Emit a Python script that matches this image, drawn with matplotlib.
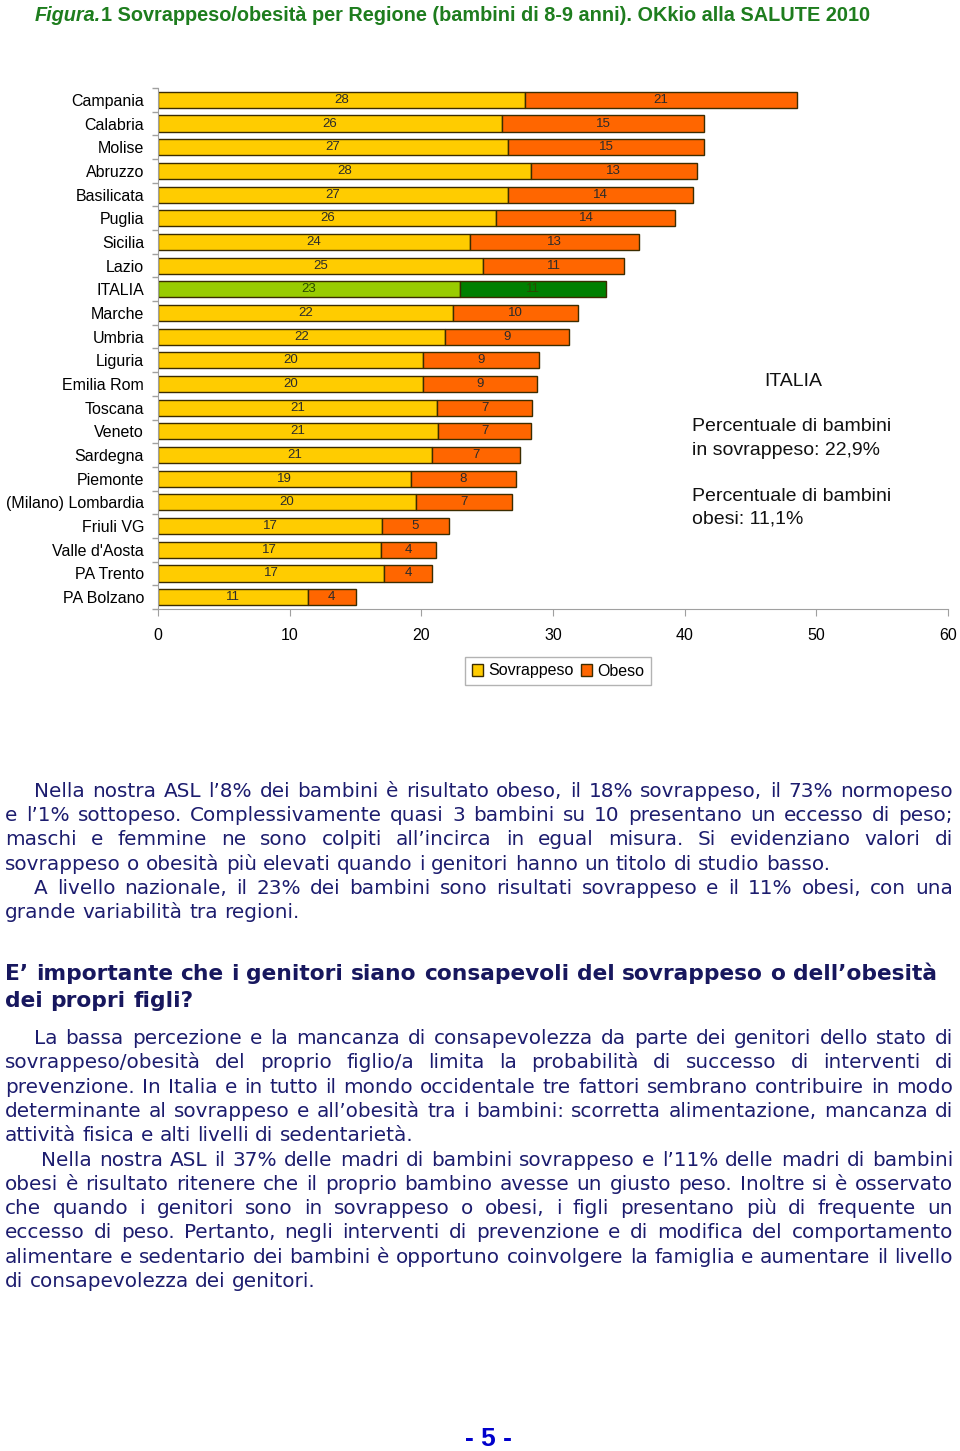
import numpy as np
import matplotlib
matplotlib.use('Agg')
from matplotlib import pyplot as plt
from matplotlib.patches import Patch

# --- data ---
regions = ['Campania', 'Calabria', 'Molise', 'Abruzzo', 'Basilicata', 'Puglia',
           'Sicilia', 'Lazio', 'ITALIA', 'Marche', 'Umbria', 'Liguria', 'Emilia Rom',
           'Toscana', 'Veneto', 'Sardegna', 'Piemonte', '(Milano) Lombardia',
           'Friuli VG', "Valle d'Aosta", 'PA Trento', 'PA Bolzano']
sovrappeso = [27.9, 26.1, 26.6, 28.3, 26.6, 25.7, 23.7, 24.7, 22.9, 22.4, 21.8,
              20.1, 20.1, 21.2, 21.3, 20.8, 19.2, 19.6, 17.0, 16.9, 17.2, 11.4]
obeso = [20.6, 15.4, 14.9, 12.6, 14.0, 13.6, 12.8, 10.7, 11.1, 9.5, 9.4,
         8.8, 8.7, 7.2, 7.0, 6.7, 8.0, 7.3, 5.1, 4.2, 3.6, 3.6]
xticks = [0, 10, 20, 30, 40, 50, 60]

W, H = 960, 1451
YELLOW, ORANGE = '#FFCC00', '#FF6600'
LGREEN, DGREEN = '#99CC00', '#008000'
EDGE = '#3b2c00'
AXC = '#a0a0a0'
NAVY = '#1c1c6e'


def fx(px):
    return px / W


def fy(py):
    return 1 - py / H


fig = plt.figure(figsize=(W / 100, H / 100), dpi=100)
renderer = fig.canvas.get_renderer()


def text_width(s, **kw):
    t = fig.text(0, 0, s, **kw)
    w = t.get_window_extent(renderer).width
    t.remove()
    return w


def fit_size(s, target, **kw):
    return 10 * target / text_width(s, fontsize=10, **kw)


# --- title ---
tkw = dict(family='Liberation Sans', weight='bold', color='#1e7d1e')
t1, t2 = 'Figura.', '1 Sovrappeso/obesità per Regione (bambini di 8-9 anni). OKkio alla SALUTE 2010'
w10 = text_width(t1, fontsize=10, style='italic', **tkw) + text_width(t2, fontsize=10, **tkw)
ts = 10 * (871 - 35) / w10
fig.text(fx(35), fy(21), t1, fontsize=ts, style='italic', va='baseline', **tkw)
w1 = text_width(t1, fontsize=ts, style='italic', **tkw)
fig.text(fx(35 + w1), fy(21), t2, fontsize=ts, va='baseline', **tkw)

# --- bar chart ---
ax = fig.add_axes([fx(158), fy(609), fx(948) - fx(158), (609 - 88) / H])
y = np.arange(len(regions))
cs = [LGREEN if r == 'ITALIA' else YELLOW for r in regions]
co = [DGREEN if r == 'ITALIA' else ORANGE for r in regions]
ax.barh(y, sovrappeso, height=0.68, color=cs, edgecolor=EDGE, linewidth=1)
ax.barh(y, obeso, left=sovrappeso, height=0.68, color=co, edgecolor=EDGE, linewidth=1)
for i, r in enumerate(regions):
    lc = '#2a4a00' if r == 'ITALIA' else '#2b2b2b'
    ax.text(sovrappeso[i] / 2, i, f'{round(sovrappeso[i])}', ha='center', va='center',
            fontsize=9.5, color=lc, family='Liberation Sans')
    ax.text(sovrappeso[i] + obeso[i] / 2, i, f'{round(obeso[i])}', ha='center', va='center',
            fontsize=9.5, color=lc, family='Liberation Sans')

ax.set_xlim(0, 60)
ax.set_ylim(len(regions) - 0.5, -0.5)
ax.set_xticks(xticks)
ax.set_xticklabels([str(v) for v in xticks], family='Liberation Sans', fontsize=11.5)
ax.set_yticks(y)
ax.set_yticklabels(regions, family='Liberation Sans', fontsize=11.5)
ax.set_yticks(np.arange(len(regions) + 1) - 0.5, minor=True)
ax.tick_params(axis='y', which='major', length=0, pad=10)
ax.tick_params(axis='y', which='minor', length=4, color=AXC, width=1)
ax.tick_params(axis='x', length=5, color=AXC, pad=9)
for sp in ['top', 'right']:
    ax.spines[sp].set_visible(False)
for sp in ['left', 'bottom']:
    ax.spines[sp].set_color(AXC)

leg = fig.legend(handles=[Patch(facecolor=YELLOW, edgecolor=EDGE, label='Sovrappeso'),
                          Patch(facecolor=ORANGE, edgecolor=EDGE, label='Obeso')],
                 loc='center', bbox_to_anchor=(fx(558), fy(671)), ncol=2,
                 prop={'family': 'Liberation Sans', 'size': 11.5},
                 handlelength=0.7, handleheight=0.7, handletextpad=0.3,
                 columnspacing=0.5, borderpad=0.4, fancybox=False, edgecolor=AXC)
leg.get_frame().set_linewidth(1)

# --- ITALIA box ---
rkw = dict(family='Liberation Sans', fontsize=14, color='#111111', va='baseline')
fig.text(fx(793), fy(386), 'ITALIA', ha='center', **rkw)
fig.text(fx(692), fy(431), 'Percentuale di bambini', **rkw)
fig.text(fx(692), fy(455), 'in sovrappeso: 22,9%', **rkw)
fig.text(fx(692), fy(501), 'Percentuale di bambini', **rkw)
fig.text(fx(692), fy(524), 'obesi: 11,1%', **rkw)

# --- body text (justified) ---
para1 = [
    (34, True, 'Nella nostra ASL l’8% dei bambini è risultato obeso, il 18% sovrappeso, il 73% normopeso'),
    (5, True, 'e l’1% sottopeso. Complessivamente quasi 3 bambini su 10 presentano un eccesso di peso;'),
    (5, True, 'maschi e femmine ne sono colpiti all’incirca in egual misura. Si evidenziano valori di'),
    (5, False, 'sovrappeso o obesità più elevati quando i genitori hanno un titolo di studio basso.'),
    (34, True, 'A livello nazionale, il 23% dei bambini sono risultati sovrappeso e il 11% obesi, con una'),
    (5, False, 'grande variabilità tra regioni.'),
]
para2 = [
    (34, True, 'La bassa percezione e la mancanza di consapevolezza da parte dei genitori dello stato di'),
    (5, True, 'sovrappeso/obesità del proprio figlio/a limita la probabilità di successo di interventi di'),
    (5, True, 'prevenzione. In Italia e in tutto il mondo occidentale tre fattori sembrano contribuire in modo'),
    (5, True, 'determinante al sovrappeso e all’obesità tra i bambini: scorretta alimentazione, mancanza di'),
    (5, False, 'attività fisica e alti livelli di sedentarietà.'),
    (41, True, 'Nella nostra ASL il 37% delle madri di bambini sovrappeso e l’11% delle madri di bambini'),
    (5, True, 'obesi è risultato ritenere che il proprio bambino avesse un giusto peso. Inoltre si è osservato'),
    (5, True, 'che quando i genitori sono in sovrappeso o obesi, i figli presentano più di frequente un'),
    (5, True, 'eccesso di peso. Pertanto, negli interventi di prevenzione e di modifica del comportamento'),
    (5, True, 'alimentare e sedentario dei bambini è opportuno coinvolgere la famiglia e aumentare il livello'),
    (5, False, 'di consapevolezza dei genitori.'),
]
heading = ['E’ importante che i genitori siano consapevoli del sovrappeso o dell’obesità',
           'dei propri figli?']

bkw = dict(family='DejaVu Sans', color=NAVY)
bsize = fit_size(para1[3][2], 828 - 5, **bkw)


def draw_lines(lines, y0, dy, size, right=953, **kw):
    space = text_width('x x', fontsize=size, **kw) - text_width('xx', fontsize=size, **kw)
    for k, (x0, just, line) in enumerate(lines):
        yb = y0 + k * dy
        words = line.split()
        widths = [text_width(w, fontsize=size, **kw) for w in words]
        gap = space
        if just and len(words) > 1:
            gap = (right - x0 - sum(widths)) / (len(words) - 1)
        x = x0
        for w, ww in zip(words, widths):
            fig.text(fx(x), fy(yb), w, fontsize=size, va='baseline', **kw)
            x += ww + gap


draw_lines(para1, 797, 24.2, bsize, **bkw)

hkw = dict(family='DejaVu Sans', color='#17175e', weight='bold')
hsize = fit_size(heading[0], 935 - 5, **hkw)
draw_lines([(5, False, heading[0]), (5, False, heading[1])], 980, 27, hsize, **hkw)

draw_lines(para2, 1044, 24.3, bsize, **bkw)

# --- page number ---
fig.text(fx(488), fy(1439), '- 5 -', ha='center', va='center', fontsize=19, weight='bold',
         color='#0000cc', family=['Liberation Sans Narrow', 'Liberation Sans'])

fig.savefig('out.png', dpi=100)
